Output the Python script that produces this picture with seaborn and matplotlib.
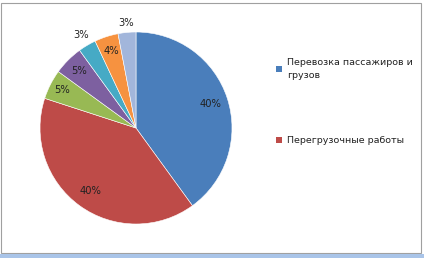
import matplotlib
matplotlib.use("Agg")
import matplotlib.pyplot as plt
import seaborn as sns
import numpy as np
from matplotlib.patches import Rectangle, Patch

sns.set_theme(style="white")
plt.rcParams['font.family'] = ['DejaVu Sans']

# Data
categories = ["Перевозка пассажиров и\nгрузов", "Перегрузочные работы",
              "Прочее 1", "Прочее 2", "Прочее 3", "Прочее 4", "Прочее 5"]
values = [40, 40, 5, 5, 3, 4, 3]
pct_labels = ["40%", "40%", "5%", "5%", "3%", "4%", "3%"]
legend_items = 2

colors = sns.color_palette(["#4A7EBB", "#BE4B48", "#98B954", "#7D60A0",
                            "#46AAC5", "#F69240", "#A2B6DB"])

fig = plt.figure(figsize=(4.24, 2.58), dpi=100)
fig.patch.set_facecolor("white")

ax = fig.add_axes([(136 - 96) / 424, 34 / 258, 192 / 424, 192 / 258])
wedges, _ = ax.pie(values, colors=colors, startangle=90, counterclock=False,
                   radius=1.0, wedgeprops=dict(edgecolor="white", linewidth=0.4))
ax.set_xlim(-1, 1)
ax.set_ylim(-1, 1)
ax.set_aspect("equal")
ax.axis("off")

dists = [0.82, 0.81, 0.87, 0.84, 1.13, 0.84, 1.10]
for w, lab, d in zip(wedges, pct_labels, dists):
    ang = np.deg2rad((w.theta1 + w.theta2) / 2)
    ax.text(d * np.cos(ang), d * np.sin(ang), lab, ha="center", va="center",
            fontsize=7.2, color="#222222")

handles = [Patch(facecolor=colors[i], edgecolor="none") for i in range(legend_items)]
leg = fig.legend(handles, categories[:legend_items], loc="upper left",
                 bbox_to_anchor=(272 / 424, 1 - 54 / 258), frameon=False,
                 fontsize=6.8, handlelength=0.7, handleheight=0.7, handletextpad=0.45,
                 labelspacing=6.0, borderaxespad=0)
for t in leg.get_texts():
    t.set_color("#222222")
    t.set_linespacing(1.55)

# outer frame
fig.add_artist(Rectangle((1 / 424, 5 / 258), 420 / 424, 250 / 258, transform=fig.transFigure,
                         fill=False, edgecolor="#A0A0A0", linewidth=0.8))
fig.add_artist(Rectangle((0, 0), 1, 4 / 258, transform=fig.transFigure,
                         facecolor="#A9C4E8", edgecolor="none"))

fig.savefig("out.png", dpi=100)
